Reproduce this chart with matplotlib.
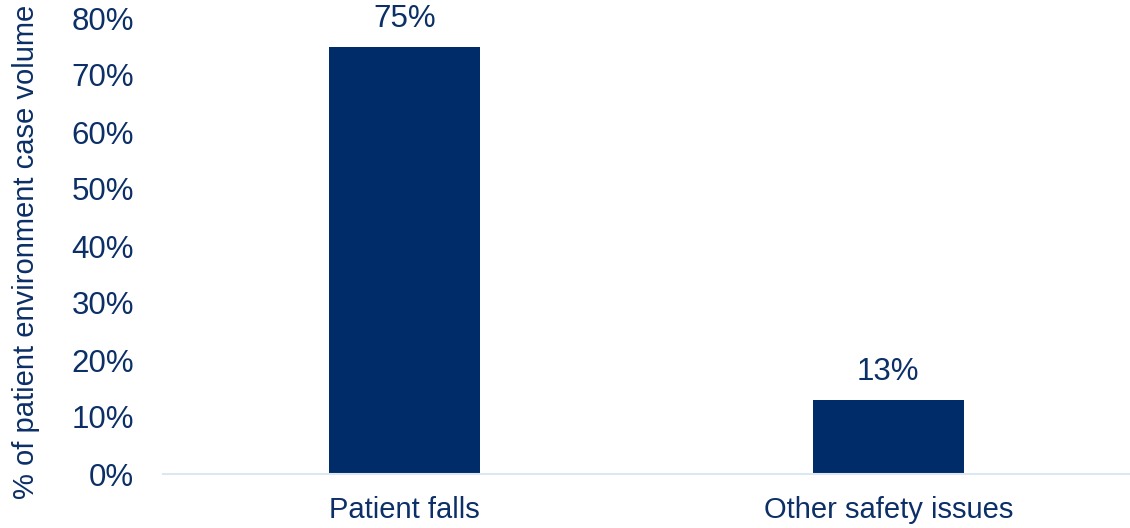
import matplotlib
matplotlib.use("Agg")
import matplotlib.pyplot as plt
from matplotlib.ticker import PercentFormatter

categories = ["Patient falls", "Other safety issues"]
values = [0.75, 0.13]
value_labels = ["75%", "13%"]
yticks = [0, 0.1, 0.2, 0.3, 0.4, 0.5, 0.6, 0.7, 0.8]

plt.rcParams['font.family'] = ['Liberation Sans', 'DejaVu Sans']
navy = "#002d69"
txt = "#0b2f66"

fig = plt.figure(figsize=(11.3, 5.28), dpi=100)
ax = fig.add_axes([163/1130, 54/528, 1 - 163/1130, (474-18)/528])
x = range(len(categories))
bars = ax.bar(x, values, width=0.312, color=navy)
for b, lab in zip(bars, value_labels):
    ax.annotate(lab, (b.get_x() + b.get_width()/2, b.get_height()),
                xytext=(0, 9), textcoords="offset points",
                ha="center", va="bottom", fontsize=22.5, color=txt)
ax.set_xlim(-0.5, 1.5)
ax.set_ylim(0, 0.8)
ax.set_yticks(yticks)
ax.yaxis.set_major_formatter(PercentFormatter(1.0, decimals=0))
ax.set_xticks(list(x))
ax.set_xticklabels(categories)
ax.tick_params(axis='both', length=0, labelcolor=txt)
ax.tick_params(axis='y', pad=21, labelsize=22.5)
ax.tick_params(axis='x', pad=16, labelsize=21)
for s in ["top", "right", "left"]:
    ax.spines[s].set_visible(False)
ax.spines["bottom"].set_color("#dce8f1")
ax.spines["bottom"].set_linewidth(1.5)
ax.set_ylabel("% of patient environment case volume", fontsize=21, color=txt)
ax.yaxis.set_label_coords(-123/967, 0.487)
fig.savefig("out.png", dpi=100)
